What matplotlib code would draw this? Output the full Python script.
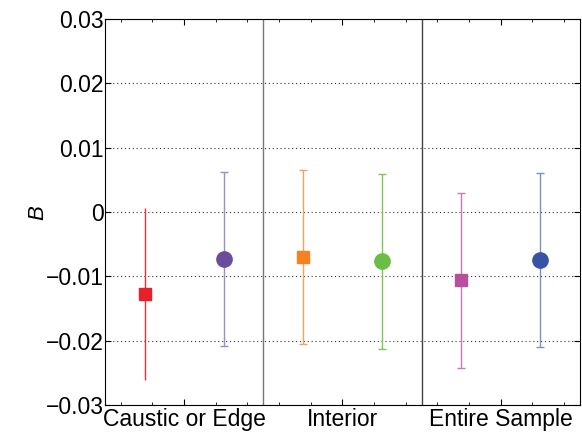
import matplotlib.pyplot as plt
from matplotlib.ticker import AutoMinorLocator

plt.rcParams['font.family'] = ['Liberation Sans', 'DejaVu Sans']

# categories and points (two per group: square then circle)
groups = ['Caustic or Edge', 'Interior', 'Entire Sample']
x_pos = [0.75, 1.25, 1.75, 2.25, 2.75, 3.25]
b_vals = [-0.01275, -0.00726, -0.00695, -0.0076, -0.01057, -0.0074]
err_top = [0.0007, 0.00617, 0.00658, 0.0060, 0.00295, 0.0061]
err_bot = [-0.0261, -0.0208, -0.02058, -0.02125, -0.0242, -0.0210]
markers = ['s', 'o', 's', 'o', 's', 'o']
colors = ['#e8202a', '#6a4c9c', '#f58220', '#6abd45', '#b84f9e', '#3653a4']
bar_colors = ['#ea2f38', '#9d8ccb', '#f8a15c', '#7cc45c', '#c77ab5', '#7d8fc7']

fig = plt.figure(figsize=(5.82, 4.33), dpi=100)
ax = fig.add_axes([0.1804, 0.0647, 0.816, 0.891])

for i in range(len(x_pos)):
    lo = b_vals[i] - err_bot[i]
    hi = err_top[i] - b_vals[i]
    cap = 0 if i == 0 else 3
    ax.errorbar(x_pos[i], b_vals[i], yerr=[[lo], [hi]], fmt='none',
                ecolor=bar_colors[i], elinewidth=1, capsize=cap, capthick=1)
    ms = 8.5 if markers[i] == 's' else 11
    ax.plot(x_pos[i], b_vals[i], marker=markers[i], color=colors[i],
            markersize=ms, linestyle='none', zorder=3)

ax.axvline(1.5, color='#777777', linewidth=1)
ax.axvline(2.5, color='#444444', linewidth=1)

ax.set_xlim(0.5, 3.5)
ax.set_ylim(-0.03, 0.03)
ax.set_xticks([1, 2, 3])
ax.set_xticklabels(groups)
ax.set_yticks([-0.03, -0.02, -0.01, 0, 0.01, 0.02, 0.03])
ax.set_yticklabels(['\u22120.03', '\u22120.02', '\u22120.01', '0', '0.01', '0.02', '0.03'])
ax.yaxis.grid(True, linestyle=(0, (1, 2.5)), color='#333333', linewidth=0.8)
ax.xaxis.set_minor_locator(AutoMinorLocator(5))
ax.tick_params(direction='in', top=True, right=True, labelsize=16.5, length=4, pad=1)
ax.tick_params(axis='x', pad=2.5)
ax.tick_params(which='minor', direction='in', top=True, length=2)
ax.set_ylabel('B', fontsize=16, fontstyle='italic', labelpad=-2)

plt.savefig('out.png', dpi=100)
